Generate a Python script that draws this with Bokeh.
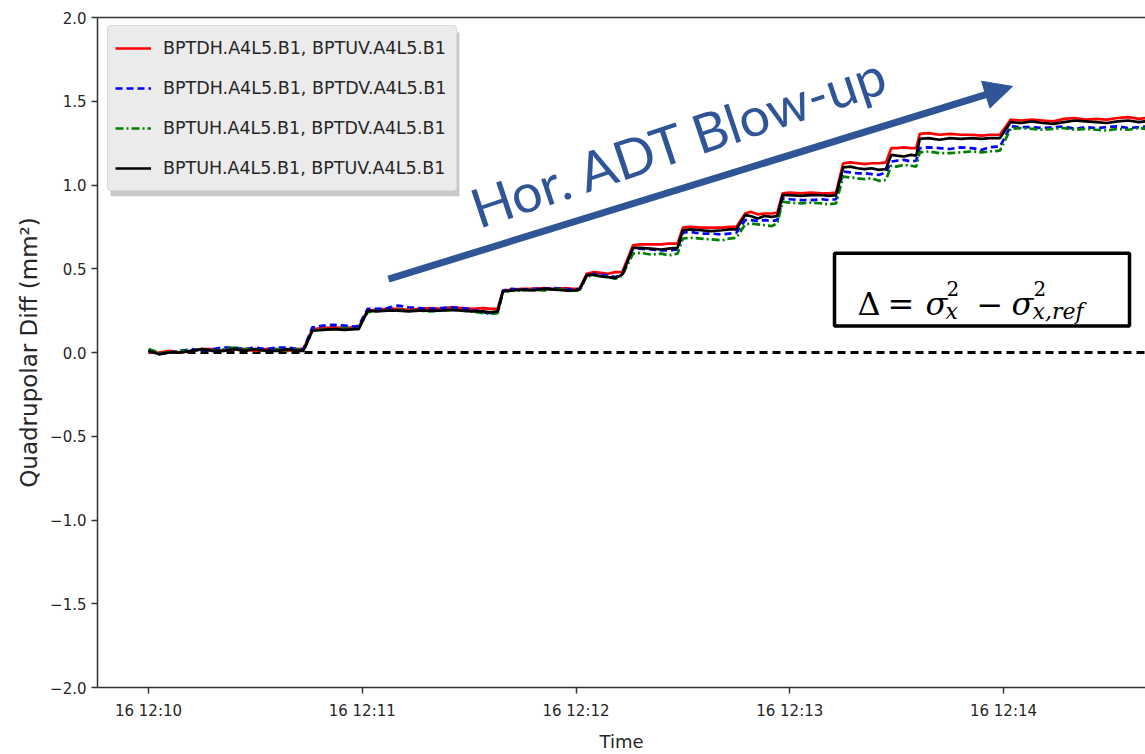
import math
from datetime import datetime, timezone

from bokeh.plotting import figure
from bokeh.models import (Range1d, FixedTicker, DatetimeTickFormatter, LinearAxis, Legend,
                          LegendItem, Arrow, NormalHead, Label, BoxAnnotation)
from bokeh.embed import file_html
from bokeh.resources import INLINE

# ---------------------------------------------------------------- data
# seconds after 16 12:10:00
t_seconds = [
    0, 3, 6, 9, 12, 15, 18, 21, 24, 27, 30, 33, 36, 39, 42, 43.5,
    46, 49, 52, 55, 58, 59,
    61.5, 64, 67, 70, 73, 76, 79, 82, 85, 88, 91, 94, 96, 98,
    99.5, 102, 105, 108, 111, 114, 117, 119, 121,
    123, 125, 127, 129, 131, 133,
    136, 138, 141, 144, 146, 148.5,
    150, 152, 155, 158, 161, 163, 165,
    167.5, 169, 171, 173, 175, 176.5,
    178, 180, 183, 186, 189, 191, 193,
    195, 197, 199, 201, 203, 205, 207,
    208.5, 210, 212, 214, 215.5,
    216.5, 219, 222, 225, 228, 231, 234, 236, 239,
    242, 245, 248, 251, 254, 257, 260, 263, 266, 269, 272, 275, 278, 280,
]

diff_tdh_tuv = [
    0.00, 0.00, 0.01, 0.00, 0.01, 0.02, 0.02, 0.01, 0.02, 0.02, 0.01, 0.02, 0.02, 0.01, 0.02, 0.02,
    0.14, 0.145, 0.15, 0.145, 0.15, 0.15,
    0.25, 0.255, 0.26, 0.26, 0.255, 0.26, 0.265, 0.26, 0.27, 0.265, 0.26, 0.265, 0.26, 0.26,
    0.37, 0.375, 0.38, 0.38, 0.385, 0.38, 0.385, 0.38, 0.38,
    0.47, 0.48, 0.475, 0.47, 0.48, 0.48,
    0.64, 0.645, 0.645, 0.645, 0.65, 0.65,
    0.745, 0.75, 0.745, 0.745, 0.745, 0.75, 0.75,
    0.83, 0.84, 0.825, 0.83, 0.83, 0.835,
    0.95, 0.955, 0.95, 0.955, 0.95, 0.95, 0.955,
    1.13, 1.135, 1.13, 1.125, 1.13, 1.13, 1.135,
    1.22, 1.22, 1.225, 1.22, 1.22,
    1.305, 1.31, 1.30, 1.305, 1.30, 1.30, 1.295, 1.30, 1.30,
    1.39, 1.385, 1.39, 1.385, 1.38, 1.395, 1.40, 1.39, 1.395, 1.39, 1.40, 1.405, 1.395, 1.40,
]

diff_tdh_tdv = [
    0.01, -0.01, 0.00, 0.01, 0.02, 0.01, 0.02, 0.03, 0.03, 0.02, 0.03, 0.02, 0.03, 0.03, 0.02, 0.02,
    0.15, 0.16, 0.165, 0.16, 0.155, 0.16,
    0.26, 0.26, 0.265, 0.28, 0.27, 0.265, 0.26, 0.265, 0.27, 0.265, 0.255, 0.24, 0.235, 0.24,
    0.37, 0.38, 0.375, 0.38, 0.38, 0.385, 0.38, 0.375, 0.38,
    0.46, 0.47, 0.465, 0.46, 0.45, 0.47,
    0.62, 0.62, 0.615, 0.61, 0.61, 0.615,
    0.715, 0.72, 0.71, 0.71, 0.705, 0.71, 0.715,
    0.79, 0.79, 0.785, 0.79, 0.785, 0.79,
    0.92, 0.915, 0.91, 0.91, 0.915, 0.91, 0.915,
    1.08, 1.075, 1.07, 1.07, 1.065, 1.06, 1.075,
    1.14, 1.145, 1.15, 1.14, 1.145,
    1.22, 1.225, 1.22, 1.215, 1.225, 1.22, 1.21, 1.225, 1.23,
    1.35, 1.345, 1.345, 1.34, 1.345, 1.35, 1.335, 1.345, 1.34, 1.345, 1.35, 1.34, 1.345, 1.35,
]

diff_tuh_tdv = [
    0.02, 0.00, 0.00, 0.01, 0.01, 0.02, 0.01, 0.02, 0.03, 0.02, 0.02, 0.01, 0.02, 0.01, 0.02, 0.01,
    0.13, 0.14, 0.14, 0.145, 0.14, 0.145,
    0.24, 0.25, 0.25, 0.255, 0.25, 0.25, 0.245, 0.25, 0.255, 0.25, 0.245, 0.235, 0.23, 0.235,
    0.36, 0.37, 0.37, 0.375, 0.37, 0.38, 0.375, 0.37, 0.37,
    0.455, 0.46, 0.455, 0.45, 0.44, 0.46,
    0.59, 0.595, 0.585, 0.59, 0.58, 0.59,
    0.68, 0.685, 0.68, 0.675, 0.67, 0.68, 0.685,
    0.765, 0.77, 0.765, 0.76, 0.755, 0.77,
    0.90, 0.895, 0.89, 0.895, 0.89, 0.885, 0.89,
    1.05, 1.045, 1.04, 1.035, 1.04, 1.025, 1.03,
    1.115, 1.11, 1.12, 1.115, 1.11,
    1.195, 1.20, 1.19, 1.19, 1.195, 1.20, 1.195, 1.20, 1.205,
    1.335, 1.34, 1.335, 1.33, 1.335, 1.34, 1.33, 1.335, 1.33, 1.325, 1.335, 1.33, 1.34, 1.335,
]

diff_tuh_tuv = [
    0.01, -0.01, 0.00, 0.00, 0.01, 0.02, 0.01, 0.01, 0.02, 0.01, 0.02, 0.01, 0.01, 0.02, 0.01, 0.01,
    0.13, 0.135, 0.14, 0.135, 0.14, 0.14,
    0.25, 0.245, 0.25, 0.25, 0.245, 0.25, 0.25, 0.25, 0.255, 0.25, 0.245, 0.245, 0.24, 0.245,
    0.365, 0.37, 0.375, 0.37, 0.38, 0.375, 0.37, 0.37, 0.375,
    0.46, 0.465, 0.455, 0.45, 0.445, 0.465,
    0.625, 0.625, 0.62, 0.615, 0.62, 0.625,
    0.73, 0.735, 0.73, 0.725, 0.73, 0.735, 0.735,
    0.82, 0.815, 0.80, 0.815, 0.81, 0.815,
    0.94, 0.94, 0.935, 0.94, 0.94, 0.935, 0.94,
    1.105, 1.11, 1.10, 1.095, 1.10, 1.09, 1.095,
    1.18, 1.175, 1.17, 1.18, 1.175,
    1.275, 1.28, 1.27, 1.28, 1.275, 1.28, 1.275, 1.28, 1.28,
    1.375, 1.37, 1.38, 1.37, 1.365, 1.375, 1.385, 1.38, 1.375, 1.37, 1.38, 1.385, 1.375, 1.38,
]

series_labels = [
    "BPTDH.A4L5.B1, BPTUV.A4L5.B1",
    "BPTDH.A4L5.B1, BPTDV.A4L5.B1",
    "BPTUH.A4L5.B1, BPTDV.A4L5.B1",
    "BPTUH.A4L5.B1, BPTUV.A4L5.B1",
]

tick_minutes = [0, 1, 2, 3, 4]               # 12:10 ... 12:14
y_ticks = [-2.0, -1.5, -1.0, -0.5, 0.0, 0.5, 1.0, 1.5, 2.0]

for s in (diff_tdh_tuv, diff_tdh_tdv, diff_tuh_tdv, diff_tuh_tuv):
    assert len(s) == len(t_seconds)

# ---------------------------------------------------------------- axes
base_ms = datetime(2018, 5, 16, 12, 10, tzinfo=timezone.utc).timestamp() * 1000.0
xs = [base_ms + s * 1000.0 for s in t_seconds]

X_START = base_ms - 14.32 * 1000.0
X_END = base_ms + 279.86 * 1000.0
Y_START, Y_END = -2.0, 2.0

# frame geometry (px) used to place the annotations
FL, FR, FT, FB = 97, 1145, 17, 688


def ax(px):
    return X_START + (px - FL) / (FR - FL) * (X_END - X_START)


def ay(py):
    return Y_START + (FB - py) / (FB - FT) * (Y_END - Y_START)


p = figure(width=1145, height=754, output_backend="svg", toolbar_location=None,
           x_axis_type="datetime",
           x_range=Range1d(X_START, X_END), y_range=Range1d(Y_START, Y_END),
           min_border_left=FL, min_border_right=0, min_border_top=FT,
           min_border_bottom=754 - FB)
p.background_fill_color = "white"
p.border_fill_color = "white"
p.outline_line_color = None
p.xgrid.visible = False
p.ygrid.visible = False

AX_COL = "#333333"
TXT_COL = "#262626"
TICK_FONT = "15px"
SANS = "DejaVu Sans"

xa = p.xaxis[0]
xa.ticker = FixedTicker(ticks=[base_ms + m * 60000.0 for m in tick_minutes])
fmt = "%d %H:%M"
xa.formatter = DatetimeTickFormatter(seconds=fmt, minsec=fmt, minutes=fmt, hourmin=fmt,
                                     hours=fmt, days=fmt)
xa.axis_label = "Time"
xa.axis_label_text_font = SANS
xa.axis_label_text_font_style = "normal"
xa.axis_label_text_font_size = "18px"
xa.axis_label_text_color = TXT_COL
xa.axis_label_standoff = 8

ya = p.yaxis[0]
ya.ticker = FixedTicker(ticks=y_ticks)
ya.major_label_overrides = {v: f"{v:.1f}".replace("-", "\u2212") for v in y_ticks}
ya.axis_label = "Quadrupolar Diff (mm\u00b2)"
ya.axis_label_text_font = SANS
ya.axis_label_text_font_style = "normal"
ya.axis_label_text_font_size = "23px"
ya.axis_label_text_color = TXT_COL
ya.axis_label_standoff = 5

for a in (xa, ya):
    a.axis_line_color = AX_COL
    a.axis_line_width = 1.5
    a.major_tick_line_color = AX_COL
    a.major_tick_line_width = 1.5
    a.major_tick_in = 0
    a.major_tick_out = 6
    a.minor_tick_line_color = None
    a.major_label_text_font = SANS
    a.major_label_text_font_size = TICK_FONT
    a.major_label_text_color = TXT_COL
xa.major_label_standoff = 8
ya.major_label_standoff = 5

# top spine (a bare axis line)
top = LinearAxis(ticker=FixedTicker(ticks=[]), major_tick_line_color=None,
                 minor_tick_line_color=None, axis_line_color=AX_COL,
                 axis_line_width=1.5, major_label_standoff=0)
p.add_layout(top, "above")

# ---------------------------------------------------------------- lines
p.line([xs[0], xs[-1]], [0, 0], line_color="black", line_width=2.8, line_dash="8 5")

styles = [
    dict(line_color="#ff0000", line_dash="solid"),
    dict(line_color="#0000ff", line_dash="7 4"),
    dict(line_color="#008000", line_dash="8 3 2 3"),
    dict(line_color="#000000", line_dash="solid"),
]
renderers = []
for ys, st in zip((diff_tdh_tuv, diff_tdh_tdv, diff_tuh_tdv, diff_tuh_tuv), styles):
    renderers.append(p.line(xs, ys, line_width=2.7, **st))

# ---------------------------------------------------------------- legend
shadow = BoxAnnotation(left=ax(110), right=ax(459), top=ay(32), bottom=ay(196),
                       fill_color="#8a8a8a", fill_alpha=0.45, line_color=None)
p.add_layout(shadow)

legend = Legend(items=[LegendItem(label=lab, renderers=[r]) for lab, r in zip(series_labels, renderers)],
                location=(10, FB - 192), margin=0, padding=7, spacing=10,
                label_height=30, glyph_height=30, glyph_width=36, label_standoff=12,
                label_width=286,
                label_text_font=SANS, label_text_font_size="17.5px",
                label_text_color=TXT_COL,
                background_fill_color="#ebebeb", background_fill_alpha=1.0,
                border_line_color="#c8c8c8", border_line_width=1.2, border_radius=4)
p.add_layout(legend)

# ---------------------------------------------------------------- annotations
BLUE = "#2f5597"
tip = (1012, 86)
start = (388, 279)
dx, dy = tip[0] - start[0], tip[1] - start[1]
ln = math.hypot(dx, dy)
ux, uy = dx / ln, dy / ln
base_px = (tip[0] - 22 * ux, tip[1] - 22 * uy)
p.add_layout(Arrow(end=None, x_start=ax(start[0]), y_start=ay(start[1]),
                   x_end=ax(base_px[0]), y_end=ay(base_px[1]),
                   line_color=BLUE, line_width=7))
p.add_layout(Arrow(end=NormalHead(size=28, fill_color=BLUE, line_color=BLUE, line_width=1),
                   x_start=ax(base_px[0] - 2 * ux), y_start=ay(base_px[1] - 2 * uy),
                   x_end=ax(tip[0]), y_end=ay(tip[1]), line_alpha=0))

p.add_layout(Label(x=ax(679), y=ay(140), text="Hor. ADT Blow-up", angle=math.radians(18.5),
                   text_align="center", text_baseline="middle",
                   text_font="Lato", text_font_size="54px", text_color=BLUE))

# formula box
p.add_layout(BoxAnnotation(left=ax(834), right=ax(1129), top=ay(253), bottom=ay(326),
                           fill_color="white", fill_alpha=1.0,
                           line_color="black", line_alpha=1.0, line_width=3.5))
SERIF = "DejaVu Serif"
pieces = [
    ("\u0394", 857, 304, "32px", "normal"),
    ("=", 887, 304, "32px", "normal"),
    ("\u03c3", 925, 304, "32px", "italic"),
    ("2", 946, 288, "20px", "normal"),
    ("x", 945, 311, "22px", "italic"),
    ("\u2212", 976, 304, "32px", "normal"),
    ("\u03c3", 1011, 304, "32px", "italic"),
    ("2", 1033, 288, "20px", "normal"),
    ("x,ref", 1032, 311, "22px", "italic"),
]
for txt, px, py, size, style in pieces:
    p.add_layout(Label(x=ax(px), y=ay(py), text=txt, text_align="left",
                       text_baseline="alphabetic", text_font=SERIF,
                       text_font_size=size, text_font_style=style, text_color="black"))

open("out.html", "w").write(file_html(p, INLINE))
